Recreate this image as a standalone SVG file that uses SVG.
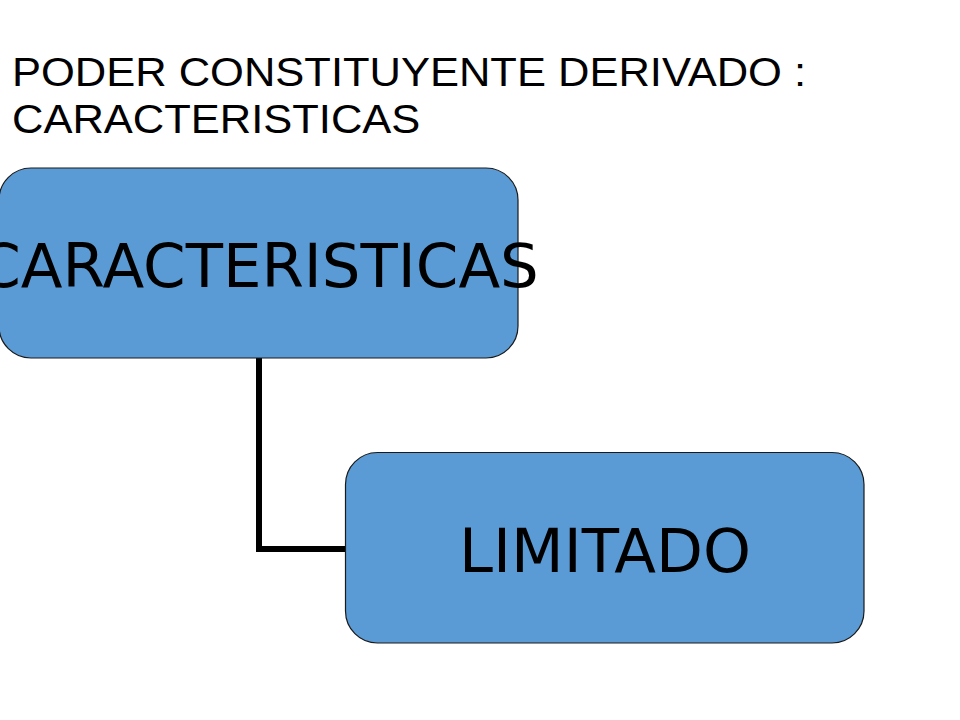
<svg xmlns="http://www.w3.org/2000/svg" width="960" height="720" viewBox="0 0 960 720">
  <style>
    .title { font-family: "Liberation Sans", Arial, sans-serif; font-size: 43.5px; fill: #000; }
    .box { fill: #5B9BD5; stroke: #1a1a1a; stroke-width: 1.2; }
    .label { font-family: "DejaVu Sans", Verdana, sans-serif; font-size: 61px; fill: #000; text-anchor: middle; }
    .conn { fill: none; stroke: #000; stroke-width: 6; }
  </style>
  <rect width="960" height="720" fill="#fff"/>
  <g id="title">
    <text class="title" transform="translate(12,86) scale(1,0.92)" x="0" y="0">PODER CONSTITUYENTE DERIVADO :</text>
    <text class="title" transform="translate(12,133) scale(1,0.92)" x="0" y="0">CARACTERISTICAS</text>
  </g>
  <g id="connectors">
    <path class="conn" d="M259,357 V549 H346"/>
  </g>
  <g id="node-caracteristicas">
    <rect class="box" x="-1" y="168" width="519" height="190" rx="32" ry="32"/>
    <text class="label" x="258.5" y="287">CARACTERISTICAS</text>
  </g>
  <g id="node-limitado">
    <rect class="box" x="345.5" y="452.5" width="518.5" height="190.5" rx="32" ry="32"/>
    <text class="label" x="605" y="572">LIMITADO</text>
  </g>
</svg>
